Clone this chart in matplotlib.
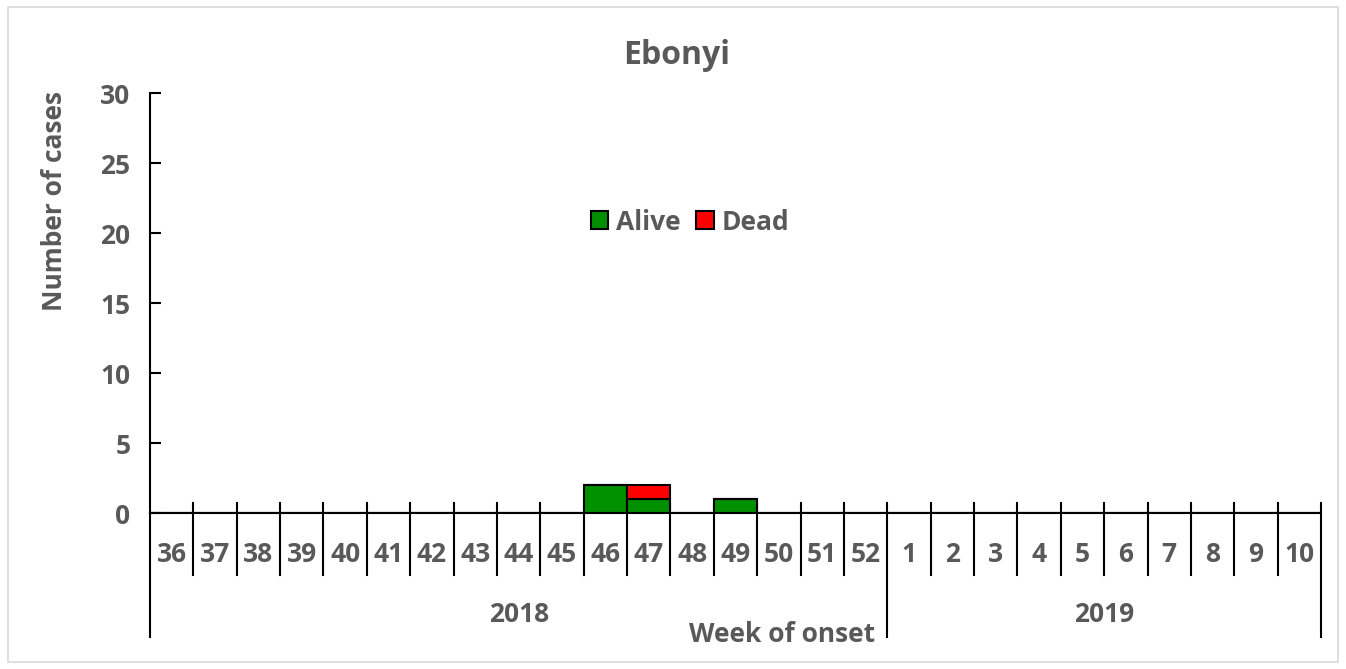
import matplotlib
matplotlib.use("Agg")
import matplotlib.pyplot as plt
from matplotlib.patches import Rectangle
import matplotlib.transforms as mtransforms

# ---- data ----
weeks_2018 = [36, 37, 38, 39, 40, 41, 42, 43, 44, 45, 46, 47, 48, 49, 50, 51, 52]
weeks_2019 = [1, 2, 3, 4, 5, 6, 7, 8, 9, 10]
week_labels = [str(w) for w in weeks_2018 + weeks_2019]
years = ["2018", "2019"]
alive = [0, 0, 0, 0, 0, 0, 0, 0, 0, 0, 2, 1, 0, 1, 0, 0, 0,
         0, 0, 0, 0, 0, 0, 0, 0, 0, 0]
dead = [0, 0, 0, 0, 0, 0, 0, 0, 0, 0, 0, 1, 0, 0, 0, 0, 0,
        0, 0, 0, 0, 0, 0, 0, 0, 0, 0]
yticks = [0, 5, 10, 15, 20, 25, 30]

GREEN = "#009000"
RED = "#FF0000"
TXT = "#595959"
FONT = "Open Sans"
FS = 19

plt.rcParams["font.family"] = FONT
plt.rcParams["font.weight"] = "bold"

W, H = 1346, 669
fig = plt.figure(figsize=(W / 100, H / 100), dpi=100)
fig.patch.set_facecolor("white")
fig.add_artist(Rectangle((8 / W, 7 / H), 1 - 16 / W, 1 - 14 / H, transform=fig.transFigure,
                         fill=False, edgecolor="#d9d9d9", lw=1.2))

left, right, bottom, top = 150, 1321, 513, 93
ax = fig.add_axes([left / W, 1 - bottom / H, (right - left) / W, (bottom - top) / H])
n = len(week_labels)
x = list(range(n))
ax.bar(x, alive, width=1.0, color=GREEN, edgecolor="black", lw=1.5, label="Alive", zorder=3)
ax.bar(x, dead, width=1.0, bottom=alive, color=RED, edgecolor="black", lw=1.5, label="Dead", zorder=3)

ax.set_xlim(-0.5, n - 0.5)
ax.set_ylim(0, 30)
for s in ["top", "right"]:
    ax.spines[s].set_visible(False)
for s in ["left", "bottom"]:
    ax.spines[s].set_linewidth(1.5)
ax.spines["left"].set_zorder(4)
ax.spines["bottom"].set_zorder(4)

ax.set_yticks(yticks)
ax.set_yticklabels([str(v) for v in yticks], fontsize=FS, fontweight="bold", color=TXT)
ax.tick_params(axis="y", direction="in", length=8, width=1.5, pad=14)
ax.set_xticks([])

ah = bottom - top  # axes height in px
trans = mtransforms.blended_transform_factory(ax.transData, ax.transAxes)
# week separators
for i in range(1, n):
    xb = i - 0.5
    y0 = -62 / ah
    if i == len(weeks_2018):
        y0 = -124 / ah
    ax.plot([xb, xb], [10 / ah, y0], color="black", lw=1.5, transform=trans, clip_on=False)
for xb in [-0.5, n - 0.5]:
    ax.plot([xb, xb], [10 / ah if xb > 0 else 0, -124 / ah], color="black", lw=1.5,
            transform=trans, clip_on=False)

for i, lab in enumerate(week_labels):
    ax.text(i, -42 / ah, lab, transform=trans, ha="center", va="center",
            fontsize=FS, fontweight="bold", color=TXT)

n18 = len(weeks_2018)
ax.text((n18 - 1) / 2, -102 / ah, years[0], transform=trans, ha="center", va="center",
        fontsize=FS, fontweight="bold", color=TXT)
ax.text((n18 + n - 1) / 2, -102 / ah, years[1], transform=trans, ha="center", va="center",
        fontsize=FS, fontweight="bold", color=TXT)

fig.text(782 / W, 1 - 634 / H, "Week of onset", ha="center", va="center",
         fontsize=FS, fontweight="bold", color=TXT)
fig.text(55 / W, 1 - 201 / H, "Number of cases", ha="center", va="center", rotation=90,
         fontsize=FS, fontweight="bold", color=TXT)
fig.text(677 / W, 1 - 55 / H, "Ebonyi", ha="center", va="center",
         fontsize=23, fontweight="bold", color=TXT)

leg = ax.legend(loc="center", bbox_to_anchor=(690 / W, 1 - 222 / H), bbox_transform=fig.transFigure,
                ncol=2, frameon=False, fontsize=FS, handlelength=0.65, handleheight=0.65,
                handletextpad=0.3, columnspacing=0.6)
for t in leg.get_texts():
    t.set_color(TXT)
    t.set_fontweight("bold")

fig.savefig("out.png", dpi=100)
